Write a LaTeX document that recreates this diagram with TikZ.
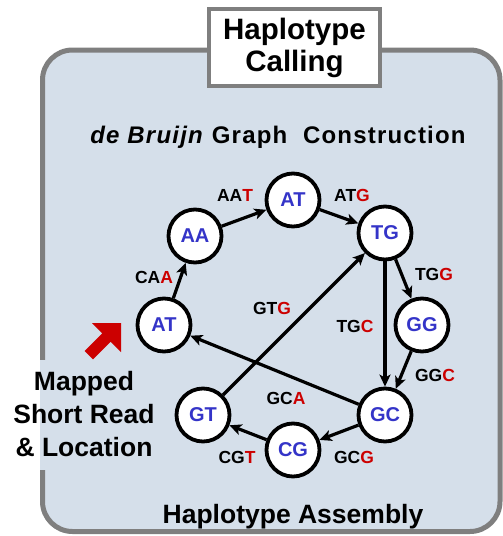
\documentclass[tikz,border=0pt]{standalone}
\usepackage{fontspec}
\setmainfont{Liberation Sans}
\usetikzlibrary{arrows.meta}
\definecolor{boxfill}{HTML}{D5DFEA}
\definecolor{boxline}{HTML}{7F7F7F}
\definecolor{kblue}{HTML}{3434C8}
\definecolor{kred}{HTML}{CC0000}
\newcommand{\rd}[1]{\textcolor{kred}{#1}}
\begin{document}
\begin{tikzpicture}[x=1pt,y=-1pt,
  kmer/.style={circle, draw=black, line width=3.8pt, fill=white, minimum size=53pt, inner sep=0pt, text=kblue, font=\fontsize{20}{24}\selectfont\bfseries},
  elabel/.style={inner sep=0pt, font=\fontsize{17.5}{20}\selectfont\bfseries},
  edge/.style={line width=3.2pt, -{Stealth[length=12pt,width=11pt,inset=3pt]}},
  bigtext/.style={inner sep=0pt, align=center, font=\fontsize{26.5}{33}\selectfont\bfseries}]
\useasboundingbox (0,0) rectangle (503,536);
% outer box
\draw[boxline, fill=boxfill, line width=5pt, rounded corners=30pt] (42.5,50) rectangle (500,531.5);
\fill[boxfill] (40,360) rectangle (47,470);
% title box
\node[draw=boxline, line width=3.5pt, fill=white, minimum width=171pt, minimum height=77pt, inner sep=0pt, align=center,
  font=\fontsize{29.5}{32}\selectfont\bfseries] (title) at (294.5,47.5) {Haplotype\\Calling};
% headings
\node[inner sep=0pt, anchor=base, font=\fontsize{24}{26}\selectfont\bfseries\addfontfeature{LetterSpace=5}] (dbg) at (278,143)
  {\textit{de Bruijn} Graph\ \ Construction};
\node[bigtext, anchor=base] (asm) at (293,523) {Haplotype Assembly};
\node[bigtext, anchor=base] (mapped) at (84,456) {Mapped\\Short Read\\\& Location};
% red arrow
\fill[kred] (92,323) -- (121,323) -- (121,352) -- (110.7,341.7) -- (93,359.4) -- (84.6,351) -- (102.3,333.3) -- cycle;
% k-mer nodes
\node[kmer] (AT1) at (164,325) {AT};
\node[kmer] (AA) at (195,236) {AA};
\node[kmer] (AT2) at (293,200) {AT};
\node[kmer] (TG) at (385,233) {TG};
\node[kmer] (GG) at (422,325) {GG};
\node[kmer] (GC) at (385,415) {GC};
\node[kmer] (CG) at (293,450) {CG};
\node[kmer] (GT) at (203,415) {GT};
% edges
\draw[edge] (AT1) -- (AA);
\draw[edge] (AA) -- (AT2);
\draw[edge] (AT2) -- (TG);
\draw[edge] (TG) -- (GG);
\draw[edge] (TG) -- (GC);
\draw[edge] (GG) -- (GC);
\draw[edge] (GC) -- (AT1);
\draw[edge] (GC) -- (CG);
\draw[edge] (CG) -- (GT);
\draw[edge] (GT) -- (TG);
% edge labels
\node[elabel] (lAAT) at (235,195) {AA\rd{T}};
\node[elabel] (lATG) at (352,195) {AT\rd{G}};
\node[elabel] (lCAA) at (154,277) {CA\rd{A}};
\node[elabel] (lGTG) at (272,308) {GT\rd{G}};
\node[elabel] (lTGC) at (355,326) {TG\rd{C}};
\node[elabel] (lTGG) at (434,274) {TG\rd{G}};
\node[elabel] (lGGC) at (435,375) {GG\rd{C}};
\node[elabel] (lGCA) at (286,398) {GC\rd{A}};
\node[elabel] (lGCG) at (354,457) {GC\rd{G}};
\node[elabel] (lCGT) at (237,457) {CG\rd{T}};
\end{tikzpicture}
\end{document}
